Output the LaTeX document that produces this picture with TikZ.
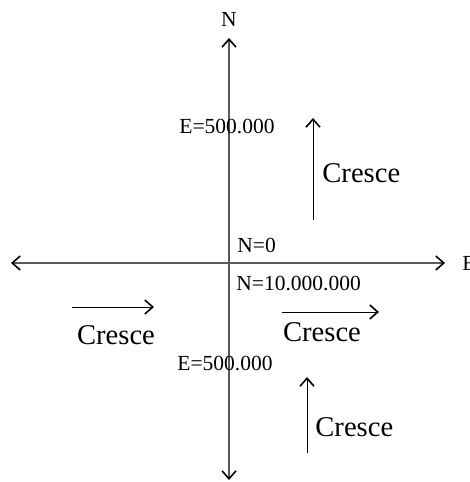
\documentclass[tikz,border=0pt]{standalone}
\usepackage{fontspec}
\setmainfont{Liberation Serif}
\usepackage{tikz}
\usetikzlibrary{arrows.meta, positioning}

\begin{document}
\begin{tikzpicture}[
        x=0.5pt, y=-0.5pt,
        axis/.style={draw=black!65, line width=0.6pt, {Straight Barb[length=4pt,width=7pt,line width=0.8pt,black]}-{Straight Barb[length=4pt,width=7pt,line width=0.8pt,black]}},
        growarrow/.style={draw=black, line width=0.5pt, -{Straight Barb[length=4pt,width=7pt,line width=0.8pt]}},
        lbl/.style={inner sep=0pt, font=\fontsize{10.75}{12}\selectfont},
        word/.style={inner sep=0pt, font=\fontsize{14.3}{16}\selectfont}
    ]
        \useasboundingbox (0,0) rectangle (470,482);

        % axes
        \coordinate (top) at (229,38);
        \coordinate (bottom) at (229,480);
        \coordinate (left) at (11,263);
        \coordinate (right) at (445,263);
        \draw[axis] (bottom) -- (top);
        \draw[axis] (left) -- (right);

        \node[lbl] (north) at (229,19) {N};
        \node[lbl, anchor=west] (east) at (462,263) {E};

        \node[lbl] (etop) at (227,127) {E=500.000};
        \node[lbl, anchor=west] (nzero) at (237,245) {N=0};
        \node[lbl, anchor=west] (nten) at (236,283) {N=10.000.000};
        \node[lbl] (ebottom) at (225,363) {E=500.000};

        % growth arrows
        \coordinate (ua) at (313,220);
        \coordinate (ub) at (313,118);
        \draw[growarrow] (ua) -- (ub);
        \node[word, anchor=west] (cup) at (322,173) {Cresce};

        \coordinate (la) at (72,307);
        \coordinate (lb) at (154,307);
        \draw[growarrow] (la) -- (lb);
        \node[word] (cleft) at (116,335) {Cresce};

        \coordinate (ra) at (282,312);
        \coordinate (rb) at (379,312);
        \draw[growarrow] (ra) -- (rb);
        \node[word] (cright) at (322,332) {Cresce};

        \coordinate (da) at (307,453);
        \coordinate (db) at (307,377);
        \draw[growarrow] (da) -- (db);
        \node[word, anchor=west] (cdown) at (315,427) {Cresce};
    \end{tikzpicture}
\end{document}
